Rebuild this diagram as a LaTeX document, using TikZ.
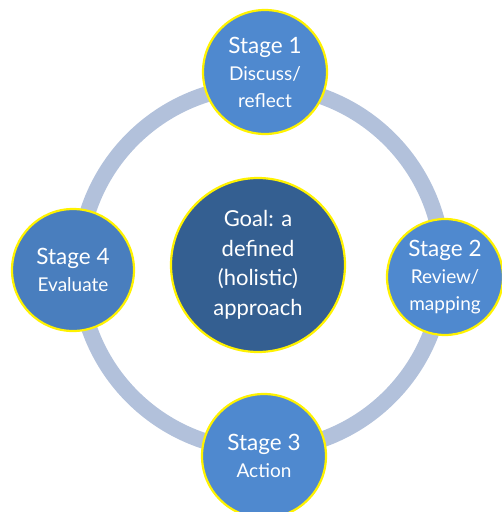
\documentclass[tikz,border=0pt]{standalone}
\usepackage{fontspec}
\setmainfont{Lato}
\begin{document}
\begin{tikzpicture}[x=1pt,y=-1pt,
  stagecircle/.style={circle, draw=yellow, line width=2.2pt, fill=stageblue,
    text=white, align=center, inner sep=0pt,
    font=\fontsize{19}{27}\selectfont},
  goalcircle/.style={circle, draw=yellow, line width=2.2pt, fill=goalblue,
    text=white, align=center, inner sep=0pt,
    font=\fontsize{22}{29.5}\selectfont},
  ring/.style={draw=ringblue, line width=16pt}]
  \definecolor{stageblue}{HTML}{4F89CF}
  \definecolor{goalblue}{HTML}{345F91}
  \definecolor{ringblue}{HTML}{B2C1DB}
  \newcommand{\stagetitle}[1]{{\fontsize{22.5}{28}\selectfont #1}}
  \useasboundingbox (0,0) rectangle (502,512);
  \clip (0,0) rectangle (502,512);
  % cycle ring behind the stages
  \coordinate (hub) at (261,268);
  \draw[ring] (hub) circle[radius=182pt];
  % centre goal
  \node[goalcircle, minimum size=174pt] (goal) at (258,265)
    {Goal: a\\defined\\(holistic)\\approach};
  % stages
  \node[stagecircle, minimum size=124pt] (s1) at (265,72)
    {\stagetitle{Stage 1}\\Discuss/\\reflect};
  \node[stagecircle, minimum size=116pt] (s2) at (445,277)
    {\stagetitle{Stage 2}\\Review/\\mapping};
  \node[stagecircle, minimum size=124pt] (s3) at (264,456)
    {\stagetitle{Stage 3}\\Action};
  \node[stagecircle, minimum size=122pt, fill=stageblue!92!black] (s4) at (73,270)
    {\stagetitle{Stage 4}\\Evaluate};
\end{tikzpicture}
\end{document}
